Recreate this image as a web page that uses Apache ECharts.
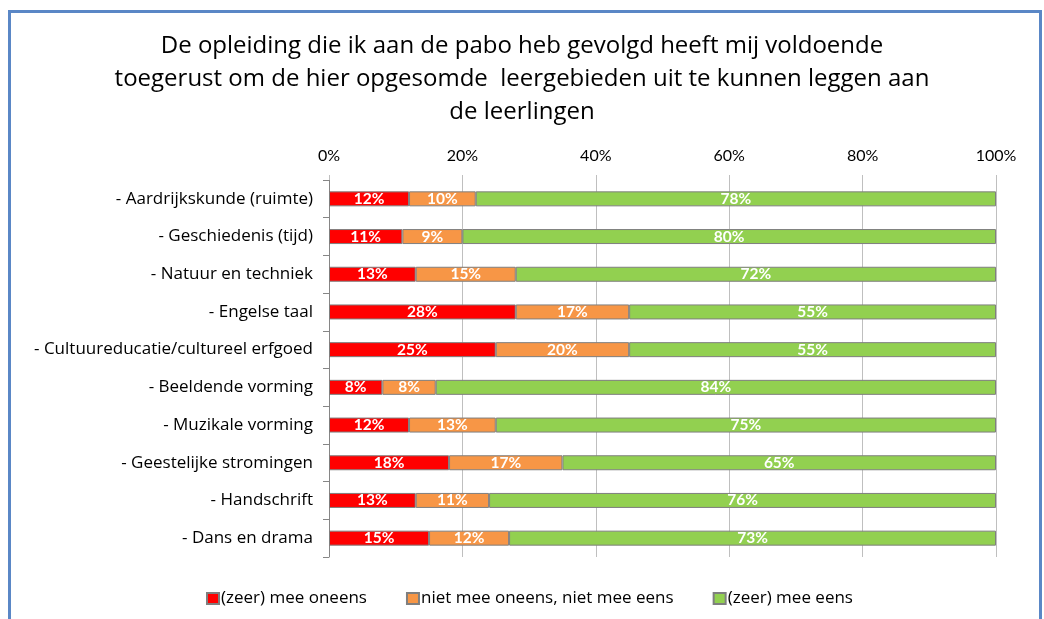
<!DOCTYPE html>
<html>
<head>
<meta charset="utf-8">
<script src="https://cdn.jsdelivr.net/npm/echarts@6/dist/echarts.min.js"></script>
<style>
html,body{margin:0;padding:0;background:#fff;}
#chart{width:1044px;height:619px;}
</style>
</head>
<body>
<div id="chart"></div>
<script>
var categories = [
  '- Aardrijkskunde (ruimte)',
  '- Geschiedenis (tijd)',
  '- Natuur en techniek',
  '- Engelse taal',
  '- Cultuureducatie/cultureel erfgoed',
  '- Beeldende vorming',
  '- Muzikale vorming',
  '- Geestelijke stromingen',
  '- Handschrift',
  '- Dans en drama'
];
var seriesNames = ['(zeer) mee oneens', 'niet mee oneens, niet mee eens', '(zeer) mee eens'];
var oneens = [12, 11, 13, 28, 25, 8, 12, 18, 13, 15];
var neutraal = [10, 9, 15, 17, 20, 8, 13, 17, 11, 12];
var eens = [78, 80, 72, 55, 55, 84, 75, 65, 76, 73];
var valueTicks = [0, 20, 40, 60, 80, 100];

var colors = ['#FF0000', '#F79646', '#92D050'];
var FONT = 'Open Sans';
var LFONT = 'Lato';

function mkSeries(name, data, color) {
  return {
    name: name,
    type: 'bar',
    stack: 'total',
    data: data,
    barWidth: 15,
    itemStyle: { color: color, borderColor: '#7F7F7F', borderWidth: 1 },
    label: {
      show: true,
      position: 'inside',
      formatter: '{c}%',
      color: '#FFFFFF',
      fontFamily: LFONT,
      fontWeight: 'bold',
      fontSize: 15.5
    }
  };
}

var chart = echarts.init(document.getElementById('chart'));
chart.setOption({
  animation: false,
  backgroundColor: '#FFFFFF',
  title: {
    text: 'De opleiding die ik aan de pabo heb gevolgd heeft mij voldoende\ntoegerust om de hier opgesomde  leergebieden uit te kunnen leggen aan\nde leerlingen',
    left: 'center',
    top: 30,
    padding: [0, 0, 0, 10],
    textStyle: {
      fontFamily: FONT,
      fontWeight: 'normal',
      fontSize: 24,
      lineHeight: 33,
      color: '#000000'
    }
  },
  legend: {
    bottom: 7,
    left: 201,
    padding: 5,
    itemWidth: 12,
    itemHeight: 11,
    itemGap: 39,
    icon: 'rect',
    data: seriesNames,
    textStyle: { fontFamily: FONT, fontSize: 17, color: '#000000', padding: [0, 0, 0, -3] }
  },
  grid: {
    left: 329,
    right: 48,
    top: 180,
    bottom: 62,
    containLabel: false
  },
  xAxis: {
    type: 'value',
    position: 'top',
    min: 0,
    max: 100,
    interval: 20,
    axisLine: { show: false },
    axisTick: { show: true, length: 5, lineStyle: { color: '#BFBFBF' } },
    splitLine: { show: true, lineStyle: { color: '#BFBFBF', width: 1 } },
    axisLabel: {
      formatter: function (v) { return valueTicks.indexOf(v) >= 0 ? v + '%' : ''; },
      margin: 16,
      fontFamily: LFONT,
      fontSize: 16,
      color: '#000000'
    }
  },
  yAxis: {
    type: 'category',
    inverse: true,
    data: categories,
    axisLine: { show: true, lineStyle: { color: '#868686' } },
    axisTick: { show: true, length: 6, lineStyle: { color: '#868686' } },
    axisLabel: {
      margin: 16,
      fontFamily: FONT,
      fontSize: 17,
      color: '#000000'
    }
  },
  series: [
    mkSeries(seriesNames[0], oneens, colors[0]),
    mkSeries(seriesNames[1], neutraal, colors[1]),
    mkSeries(seriesNames[2], eens, colors[2])
  ],
  graphic: [{
    type: 'rect',
    shape: { x: 9.5, y: 11.5, width: 1031, height: 640 },
    style: { fill: null, stroke: '#5A87C6', lineWidth: 3 },
    silent: true
  }]
});
</script>
</body>
</html>
